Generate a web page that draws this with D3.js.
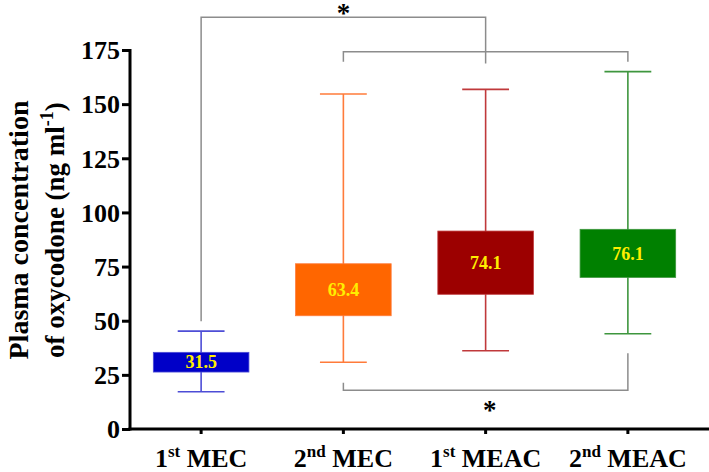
<!DOCTYPE html>
<html><head><meta charset="utf-8">
<script src="https://cdn.jsdelivr.net/npm/d3@7"></script>
<style>
html,body{margin:0;padding:0;background:#fff;}
svg{display:block;}
text{font-family:"Liberation Serif","Times New Roman",serif;font-weight:bold;}
</style></head>
<body>
<svg id="chart" width="709" height="472"></svg>
<script>
// ---- data ----
const categories = ["1st MEC", "2nd MEC", "1st MEAC", "2nd MEAC"];
const catNumber = ["1", "2", "1", "2"];
const catSup = ["st", "nd", "st", "nd"];
const catName = ["MEC", "MEC", "MEAC", "MEAC"];
const whiskerLow = [17.2, 30.8, 36.1, 44.0];
const boxLow = [26.3, 52.3, 62.2, 70.0];
const boxHigh = [35.4, 76.3, 91.4, 92.2];
const whiskerHigh = [45.2, 154.7, 156.8, 165.0];
const medianLabels = ["31.5", "63.4", "74.1", "76.1"];
const boxColors = ["#0000c8", "#ff6600", "#9c0000", "#008000"];
const lineColors = ["#4d4dd6", "#ff7b3a", "#c0393b", "#3e963e"];
const yTicks = [0, 25, 50, 75, 100, 125, 150, 175];
// significance brackets
const bracketFrom = [0, 1, 1];
const bracketTo = [2, 3, 3];
const bracketBar = [190.1, 174.2, 17.9];
const bracketFromEnd = [49.7, 169.6, 21.4];
const bracketToEnd = [168.8, 169.6, 35.0];
const starCategory = [1, null, 2];
const starValue = [194.3, null, 11.3];

// ---- layout ----
const svg = d3.select("#chart");
const mLeft = 130, mRight = 699, mTop = 50, mBottom = 429;
const x = d3.scaleBand().domain(categories).range([mLeft, mRight]).padding(0);
const y = d3.scaleLinear().domain([0, 175]).range([mBottom, mTop]);
const boxW = x.bandwidth() * 0.672;
const capW = boxW * 0.49;
const cx = i => x(categories[i]) + x.bandwidth() / 2;

// brackets
const bg = svg.append("g").attr("fill", "none").attr("stroke", "#8c8c8c").attr("stroke-width", 1.5);
bracketFrom.forEach((f, k) => {
  const t = bracketTo[k];
  const p = d3.path();
  p.moveTo(cx(f), y(bracketFromEnd[k]));
  p.lineTo(cx(f), y(bracketBar[k]));
  p.lineTo(cx(t), y(bracketBar[k]));
  p.lineTo(cx(t), y(bracketToEnd[k]));
  bg.append("path").attr("d", p.toString());
});
starCategory.forEach((c, k) => {
  if (c === null) return;
  const sx = k === 0 ? cx(c) : cx(c) + 4;
  svg.append("text").attr("x", sx).attr("y", y(starValue[k]) + 14)
    .attr("text-anchor", "middle").attr("font-size", 27).attr("fill", "#000").text("*");
});

// whiskers
const wg = svg.append("g");
categories.forEach((c, i) => {
  const g = wg.append("g").attr("stroke", lineColors[i]).attr("stroke-width", 1.6);
  g.append("line").attr("x1", cx(i)).attr("x2", cx(i)).attr("y1", y(whiskerLow[i])).attr("y2", y(whiskerHigh[i]));
  g.append("line").attr("x1", cx(i) - capW / 2).attr("x2", cx(i) + capW / 2).attr("y1", y(whiskerLow[i])).attr("y2", y(whiskerLow[i]));
  g.append("line").attr("x1", cx(i) - capW / 2).attr("x2", cx(i) + capW / 2).attr("y1", y(whiskerHigh[i])).attr("y2", y(whiskerHigh[i]));
});

// boxes
svg.append("g").selectAll("rect").data(categories).join("rect")
  .attr("x", (d, i) => cx(i) - boxW / 2)
  .attr("width", boxW)
  .attr("y", (d, i) => y(boxHigh[i]))
  .attr("height", (d, i) => y(boxLow[i]) - y(boxHigh[i]))
  .attr("fill", (d, i) => boxColors[i])
  .attr("stroke", (d, i) => lineColors[i])
  .attr("stroke-width", 0.8);

svg.append("g").selectAll("text").data(categories).join("text")
  .attr("x", (d, i) => cx(i))
  .attr("y", (d, i) => (y(boxLow[i]) + y(boxHigh[i])) / 2)
  .attr("dy", "0.35em")
  .attr("text-anchor", "middle")
  .attr("font-size", 18)
  .attr("fill", "#ffee00")
  .text((d, i) => medianLabels[i]);

// y axis
const ya = svg.append("g").attr("transform", `translate(${mLeft},0)`)
  .call(d3.axisLeft(y).tickValues(yTicks).tickSize(8).tickSizeOuter(0).tickPadding(2));
ya.select(".domain").attr("stroke", "#000").attr("stroke-width", 3).attr("d", `M0,${mTop - 1}V${mBottom + 1.5}`);
ya.selectAll(".tick line").attr("stroke", "#000").attr("stroke-width", 3);
ya.selectAll(".tick text").attr("font-size", 26).attr("font-family", "Liberation Serif").attr("font-weight", "bold").attr("fill", "#000").attr("dy", "0.34em");

// x axis
const xa = svg.append("g").attr("transform", `translate(0,${mBottom})`)
  .call(d3.axisBottom(x).tickSize(5).tickSizeOuter(0).tickFormat(() => ""));
xa.select(".domain").attr("stroke", "#000").attr("stroke-width", 3).attr("d", `M${mLeft - 1.5},0H709`);
xa.selectAll(".tick line").attr("stroke", "#000").attr("stroke-width", 3);
xa.selectAll(".tick text").remove();
categories.forEach((c, i) => {
  const t = svg.append("text").attr("x", cx(i)).attr("y", 467).attr("text-anchor", "middle")
    .attr("font-size", 26).attr("fill", "#000");
  t.append("tspan").text(catNumber[i]);
  t.append("tspan").attr("font-size", 17).attr("dy", -10).text(catSup[i]);
  t.append("tspan").attr("dy", 10).text(" " + catName[i]);
});

// y title
const title = svg.append("text").attr("transform", "translate(28,230) rotate(-90)")
  .attr("text-anchor", "middle").attr("font-size", 28).attr("fill", "#000");
title.append("tspan").attr("x", 0).attr("y", 0).text("Plasma concentration");
const l2 = svg.append("text").attr("transform", "translate(64,230) rotate(-90)")
  .attr("text-anchor", "middle").attr("font-size", 27).attr("fill", "#000");
l2.append("tspan").text("of oxycodone (ng ml");
l2.append("tspan").attr("font-size", 18).attr("dy", -11).text("-1");
l2.append("tspan").attr("dy", 11).text(")");
</script>
</body></html>
